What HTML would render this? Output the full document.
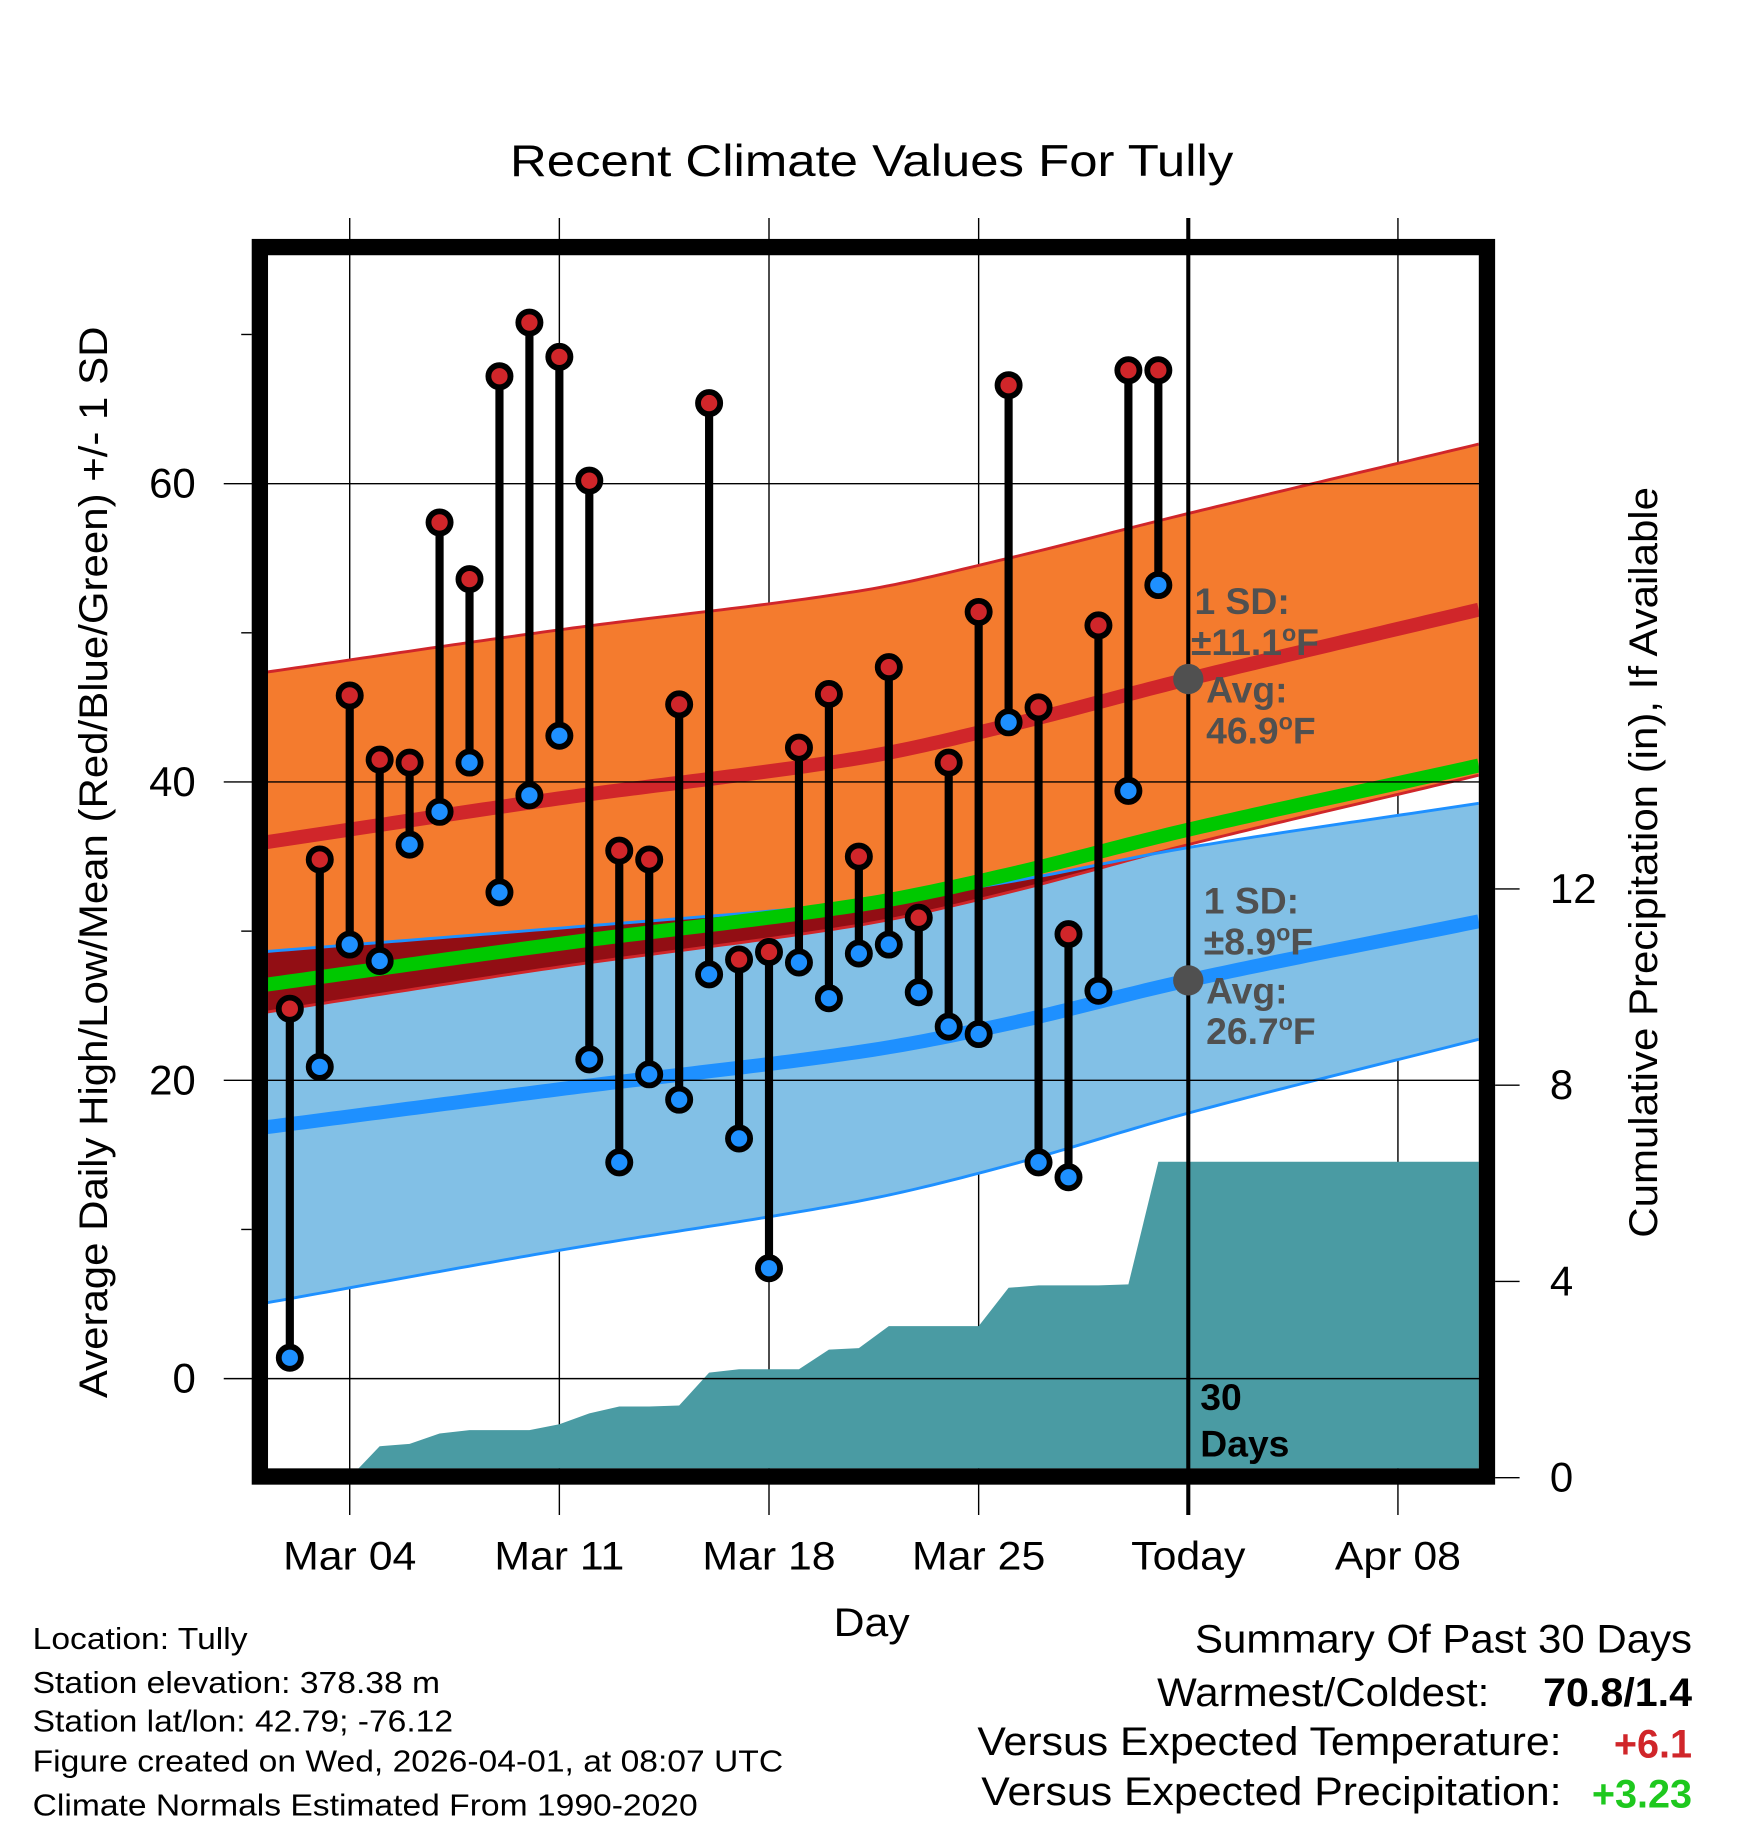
<!DOCTYPE html>
<html><head><meta charset="utf-8">
<style>
html,body{margin:0;padding:0;background:#fff;}
svg{display:block;font-family:"Liberation Sans",Arial,sans-serif;}
</style></head>
<body>
<svg id="chart" width="1748" height="1828" viewBox="0 0 1500 1568.6" xmlns="http://www.w3.org/2000/svg">
<defs><clipPath id="plotclip"><rect x="230" y="219" width="1039" height="1041"/></clipPath></defs>
<rect width="1500" height="1568.6" fill="#fff"/>
<text data-stretch="1.15" x="748" y="151" font-size="38" text-anchor="middle">Recent Climate Values For Tully</text>
<g id="grid"></g>
<g id="bands" clip-path="url(#plotclip)"></g>
<g id="precip" clip-path="url(#plotclip)"></g>
<g id="gridInner"></g>
<g id="marks"></g>
<g id="annot"></g>
<rect x="223" y="212" width="1053" height="1055" fill="none" stroke="#000" stroke-width="14"/>
<g id="axes"></g>
<text data-stretch="1.06" transform="translate(92,740) rotate(-90)" font-size="34" text-anchor="middle">Average Daily High/Low/Mean (Red/Blue/Green) +/- 1 SD</text>
<text data-stretch="1.06" transform="translate(1422,740) rotate(-90)" font-size="34" text-anchor="middle">Cumulative Precipitation (in), If Available</text>
<text data-stretch="1.08" x="748" y="1404" font-size="34" text-anchor="middle">Day</text>
<g font-size="26">
<text data-stretch="1.11" x="28" y="1415">Location: Tully</text>
<text data-stretch="1.11" x="28" y="1453">Station elevation: 378.38 m</text>
<text data-stretch="1.11" x="28" y="1486">Station lat/lon: 42.79; -76.12</text>
<text data-stretch="1.11" x="28" y="1520">Figure created on Wed, 2026-04-01, at 08:07 UTC</text>
<text data-stretch="1.11" x="28" y="1558">Climate Normals Estimated From 1990-2020</text>
</g>
<g font-size="34" text-anchor="end">
<text data-stretch="1.06" x="1452" y="1418">Summary Of Past 30 Days</text>
<text data-stretch="1.06" x="1278" y="1464">Warmest/Coldest:</text>
<text data-stretch="1.04" x="1452" y="1464" font-weight="bold">70.8/1.4</text>
<text data-stretch="1.08" x="1340" y="1506">Versus Expected Temperature:</text>
<text x="1452" y="1508" font-weight="bold" fill="#d0262a">+6.1</text>
<text data-stretch="1.08" x="1340" y="1549">Versus Expected Precipitation:</text>
<text x="1452" y="1551" font-weight="bold" fill="#1ec81e">+3.23</text>
</g>
</svg>
<script>
// daily observations (day index: days since Mar 1)
const obsDays = [1,2,3,4,5,6,7,8,9,10,11,12,13,14,15,16,17,18,19,20,21,22,23,24,25,26,27,28,29,30];
const highs = [24.8,34.8,45.8,41.5,41.3,57.4,53.6,67.2,70.8,68.5,60.2,35.4,34.8,45.2,65.4,28.1,28.6,42.3,45.9,35.0,47.7,30.9,41.3,51.4,66.6,45.0,29.8,50.5,67.6,67.6];
const lows = [1.4,20.9,29.1,28.0,35.8,38.0,41.3,32.6,39.1,43.1,21.4,14.5,20.4,18.7,27.1,16.1,7.4,27.9,25.5,28.5,29.1,25.9,23.6,23.1,44.0,14.5,13.5,26.0,39.4,53.2];
const precipDays = [3,4,5,6,7,8,9,10,11,12,13,14,15,16,17,18,19,20,21,22,23,24,25,26,27,28,29,30,40.8];
const precip = [0,0.64,0.69,0.90,0.97,0.97,0.97,1.09,1.31,1.45,1.45,1.47,2.14,2.21,2.21,2.21,2.61,2.64,3.09,3.09,3.09,3.09,3.87,3.92,3.92,3.92,3.94,6.44,6.44];
const normDays = [0,10,20,25,31,40.8];
const hiMean = [35.9,38.9,41.6,43.8,46.9,51.6];
const hiSd = [11.4,11.3,11.2,11.2,11.1,11.1];
const loMean = [16.8,19.4,21.9,23.8,26.7,30.7];
const loSd = [11.8,10.8,10.0,9.5,8.9,7.9];
const xTickDays = [3,10,17,24,31,38];
const xTickLabels = ["Mar 04","Mar 11","Mar 18","Mar 25","Today","Apr 08"];
const yTicks = [0,20,40,60];
const yMinor = [10,30,50,70];
const y2Ticks = [0,4,8,12];

const NS="http://www.w3.org/2000/svg";
const xS = d => 223 + 25.7*d;
const yS = v => 1183 - 12.8*v;
const y2S = p => 1268 - 42.1*p;
function el(tag, attrs, parent){const e=document.createElementNS(NS,tag);for(const k in attrs)e.setAttribute(k,attrs[k]);parent.appendChild(e);return e;}
// smooth (cosine-blended) piecewise interpolation of normals
function interp(ds, vs, d){
  if(d<=ds[0]) return vs[0];
  for(let i=0;i<ds.length-1;i++){if(d<=ds[i+1]){const t=(d-ds[i])/(ds[i+1]-ds[i]);
    const s0=i>0?(vs[i+1]-vs[i-1])/(ds[i+1]-ds[i-1]):(vs[1]-vs[0])/(ds[1]-ds[0]);
    const s1=i+2<ds.length?(vs[i+2]-vs[i])/(ds[i+2]-ds[i]):(vs[i+1]-vs[i])/(ds[i+1]-ds[i]);
    const h=ds[i+1]-ds[i],t2=t*t,t3=t2*t;
    return (2*t3-3*t2+1)*vs[i]+(t3-2*t2+t)*h*s0+(-2*t3+3*t2)*vs[i+1]+(t3-t2)*h*s1;}}
  return vs[vs.length-1];}
const grid=document.getElementById('grid'), bands=document.getElementById('bands'), pg=document.getElementById('precip'), gi=document.getElementById('gridInner'), marks=document.getElementById('marks'), annot=document.getElementById('annot'), axes=document.getElementById('axes');

const samp=[]; for(let d=0.2; d<=40.9; d+=0.25) samp.push(d);
const hm=d=>interp(normDays,hiMean,d), hs=d=>interp(normDays,hiSd,d), lm=d=>interp(normDays,loMean,d), ls=d=>interp(normDays,loSd,d);
function band(fu, fl){let p=samp.map(d=>xS(d)+','+yS(fu(d))); p=p.concat(samp.slice().reverse().map(d=>xS(d)+','+yS(fl(d)))); return p.join(' ');}
function line(f){return samp.map(d=>xS(d)+','+yS(f(d))).join(' ');}

let e;
e=el('polygon',{points:band(d=>hm(d)+hs(d),d=>hm(d)-hs(d)),fill:'#f47b2e'},bands);

e=el('polygon',{points:band(d=>lm(d)+ls(d),d=>lm(d)-ls(d)),fill:'#82c0e6'},bands);

e=el('polygon',{points:band(d=>Math.max(lm(d)+ls(d),hm(d)-hs(d)),d=>hm(d)-hs(d)),fill:'#920e14'},bands);

[[d=>hm(d)+hs(d),'#d0262a',2.5,'high-upper-edge'],[d=>hm(d)-hs(d),'#d0262a',2.5,'high-lower-edge'],[d=>lm(d)+ls(d),'#1e90ff',2.5,'low-upper-edge'],[d=>lm(d)-ls(d),'#1e90ff',2.5,'low-lower-edge'],[hm,'#d0262a',12,'high-mean-line'],[lm,'#1e90ff',12,'low-mean-line'],[d=>(hm(d)+lm(d))/2,'#00c800',12,'mean-line']].forEach(a=>{
  const l=el('polyline',{points:line(a[0]),fill:'none',stroke:a[1],'stroke-width':a[2]},bands);
  
  
});

let pp=precipDays.map((d,i)=>xS(d)+','+y2S(precip[i]));
pp.push(xS(precipDays[precipDays.length-1])+','+y2S(0)); pp.push(xS(precipDays[0])+','+y2S(0));
e=el('polygon',{points:pp.join(' '),fill:'#4a9ba3'},pg);


xTickDays.forEach((d,i)=>{
  const x=xS(d);
  const g=el('line',{x1:x,x2:x,y1:187,y2:1300,stroke:'#000','stroke-width':i==4?3.5:1.2},i==4?gi:grid);
  
  
  const t=el('text',{x:x,y:1347,'font-size':34,'text-anchor':'middle','data-stretch':'1.08'},axes); t.textContent=xTickLabels[i];
  
  
});
yTicks.forEach(v=>{
  const y=yS(v);
  const g=el('line',{x1:192,x2:1270,y1:y,y2:y,stroke:'#000','stroke-width':1.2},gi);
  
  
  const t=el('text',{x:168,y:y+12,'font-size':36,'text-anchor':'end'},axes); t.textContent=v;
  
  
});
yMinor.forEach(v=>{const g=el('line',{x1:207,x2:216,y1:yS(v),y2:yS(v),stroke:'#000','stroke-width':1.2},axes);
  
  });
y2Ticks.forEach(p=>{
  const y=y2S(p);
  const g=el('line',{x1:1283,x2:1304,y1:y,y2:y,stroke:'#000','stroke-width':1.2},axes);
  
  
  const t=el('text',{x:1330,y:y+12,'font-size':36},axes); t.textContent=p;
  
  
});

obsDays.forEach((d,i)=>{
  const x=xS(d);
  const s=el('line',{x1:x,x2:x,y1:yS(highs[i]),y2:yS(lows[i]),stroke:'#000','stroke-width':7},marks);
  
  
});
obsDays.forEach((d,i)=>{
  const x=xS(d);
  [[highs[i],'#d0262a','high-point'],[lows[i],'#1e90ff','low-point']].forEach(a=>{
    const c=el('circle',{cx:x,cy:yS(a[0]),r:9.5,fill:a[1],stroke:'#000','stroke-width':5},marks);
    
    
  });
});

const today=31;
function ann(txt,x,y,name){const t=el('text',{x:x,y:y,'font-size':32,'font-weight':'bold',fill:'#505050'},annot);t.innerHTML=txt;
  
  }
const ax=xS(today);
e=el('circle',{cx:ax,cy:yS(hm(today)),r:13,fill:'#505050'},annot);

e=el('circle',{cx:ax,cy:yS(lm(today)),r:13,fill:'#505050'},annot);

const sup='<tspan font-size="20" dy="-12">o</tspan><tspan dy="12">F</tspan>';
ann('1 SD:',1025,527,'high-sd-label');
ann('±11.1'+sup,1022,562,'high-sd-value');
ann('Avg:',1035,603,'high-avg-label');
ann('46.9'+sup,1035,638,'high-avg-value');
ann('1 SD:',1033,784,'low-sd-label');
ann('±8.9'+sup,1033,819,'low-sd-value');
ann('Avg:',1035,861,'low-avg-label');
ann('26.7'+sup,1035,896,'low-avg-value');
const d1=el('text',{x:1030,y:1210,'font-size':32,'font-weight':'bold'},annot);d1.textContent='30';


const d2=el('text',{x:1030,y:1250,'font-size':32,'font-weight':'bold'},annot);d2.textContent='Days';



// widen text to match reference glyph widths
document.querySelectorAll('[data-stretch]').forEach(t=>{
  const f=parseFloat(t.getAttribute('data-stretch'));
  const w=t.getComputedTextLength();
  if(w>0){t.setAttribute('textLength',(w*f).toFixed(1));t.setAttribute('lengthAdjust','spacingAndGlyphs');}
});
</script>
</body></html>
